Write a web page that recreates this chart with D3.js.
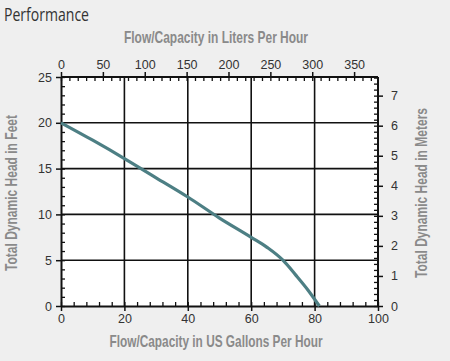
<!DOCTYPE html>
<html><head><meta charset="utf-8">
<script src="https://cdn.jsdelivr.net/npm/d3@7"></script>
<style>
html,body{margin:0;padding:0;background:#efefef;}
svg{display:block;}
</style></head>
<body>
<svg id="c" width="450" height="361"></svg>
<script>
const flowGal = [0, 10, 20, 30, 40, 50, 60, 65, 70, 74, 78, 81.5];
const headFt  = [20, 18.1, 16.1, 14.0, 11.9, 9.6, 7.5, 6.4, 5.0, 3.4, 1.7, 0];
const galTicks = [0, 20, 40, 60, 80, 100];
const ftTicks = [0, 5, 10, 15, 20, 25];
const literTicks = [0, 50, 100, 150, 200, 250, 300, 350];
const meterTicks = [0, 1, 2, 3, 4, 5, 6, 7];
const GAL_TO_L = 3.78541, FT_TO_M = 0.3048;

const svg = d3.select("#c");
const L = 61, R = 378, T = 77, B = 306;
const x = d3.scaleLinear().domain([0, 100]).range([L, R]);
const y = d3.scaleLinear().domain([0, 25]).range([B, T]);
const xL = d3.scaleLinear().domain([0, 100 * GAL_TO_L]).range([L, R]);
const yM = d3.scaleLinear().domain([0, 25 * FT_TO_M]).range([B, T]);

const font = "'Liberation Sans Narrow','Liberation Sans',Arial,sans-serif";

svg.append("rect").attr("x", L).attr("y", T).attr("width", R - L).attr("height", B - T).attr("fill", "#fff");

// grid
const g = svg.append("g").attr("stroke", "#111").attr("stroke-width", 1.6);
[20, 40, 60, 80].forEach(v => g.append("line").attr("x1", x(v)).attr("x2", x(v)).attr("y1", T).attr("y2", B));
[5, 10, 15, 20].forEach(v => g.append("line").attr("y1", y(v)).attr("y2", y(v)).attr("x1", L).attr("x2", R));

function styleAxis(sel) {
  sel.select(".domain").attr("stroke", "#111").attr("stroke-width", 2);
  sel.selectAll(".tick line").attr("stroke", "#111").attr("stroke-width", 1.5);
  sel.selectAll("text").attr("fill", "#333").attr("font-size", 12.5).attr("font-family", font);
}

// minor ticks (inside)
function minor(axisGen, scale, vals, tr) {
  const a = svg.append("g").attr("transform", tr)
    .call(axisGen(scale).tickValues(vals).tickSize(4).tickFormat(""));
  a.select(".domain").remove();
  a.selectAll(".tick line").attr("stroke", "#111").attr("stroke-width", 1.3);
}
minor(d3.axisTop, x, d3.range(0, 101, 4), `translate(0,${B})`);
minor(d3.axisRight, y, d3.range(0, 26, 1), `translate(${L},0)`);
minor(d3.axisBottom, xL, d3.range(0, 378, 10), `translate(0,${T})`);
minor(d3.axisLeft, yM, d3.range(0, 7.62, 0.2), `translate(${R},0)`);

// major axes
const ab = svg.append("g").attr("transform", `translate(0,${B})`)
  .call(d3.axisBottom(x).tickValues(galTicks).tickSize(5).tickSizeOuter(0).tickPadding(3));
styleAxis(ab);
const al = svg.append("g").attr("transform", `translate(${L},0)`)
  .call(d3.axisLeft(y).tickValues(ftTicks).tickSize(5).tickSizeOuter(0).tickPadding(4));
styleAxis(al);
const at = svg.append("g").attr("transform", `translate(0,${T})`)
  .call(d3.axisTop(xL).tickValues(literTicks).tickSize(5).tickSizeOuter(0).tickPadding(3));
styleAxis(at);
at.select(".domain").attr("d", `M${L},0H${R}`);
const ar = svg.append("g").attr("transform", `translate(${R},0)`)
  .call(d3.axisRight(yM).tickValues(meterTicks).tickSize(5).tickSizeOuter(0).tickPadding(8));
styleAxis(ar);
ar.select(".domain").attr("d", `M0,${B}V${T}`);

// curve
const pts = flowGal.map((v, i) => [v, headFt[i]]);
svg.append("path").datum(pts)
  .attr("d", d3.line().x(d => x(d[0])).y(d => y(d[1])).curve(d3.curveMonotoneX))
  .attr("fill", "none").attr("stroke", "#4d7f84").attr("stroke-width", 3.2)
  .attr("stroke-linecap", "butt");

// titles
svg.append("text").attr("x", 4).attr("y", 21).text("Performance")
  .attr("font-family", "'Open Sans',sans-serif").attr("font-size", 18).attr("fill", "#333")
  .attr("textLength", 85).attr("lengthAdjust", "spacingAndGlyphs");

function axTitle(txt, cx, cy, len, rot) {
  svg.append("text").text(txt)
    .attr("transform", `translate(${cx},${cy}) rotate(${rot})`)
    .attr("text-anchor", "middle").attr("dominant-baseline", "middle")
    .attr("font-family", font).attr("font-weight", "bold").attr("font-size", 16.5)
    .attr("fill", "#8a8a8a").attr("textLength", len).attr("lengthAdjust", "spacingAndGlyphs");
}
axTitle("Flow/Capacity in Liters Per Hour", 216, 39, 184, 0);
axTitle("Flow/Capacity in US Gallons Per Hour", 216, 343, 213, 0);
axTitle("Total Dynamic Head in Feet", 13, 193, 156, -90);
axTitle("Total Dynamic Head in Meters", 423, 193, 170, -90);
</script>
</body></html>
